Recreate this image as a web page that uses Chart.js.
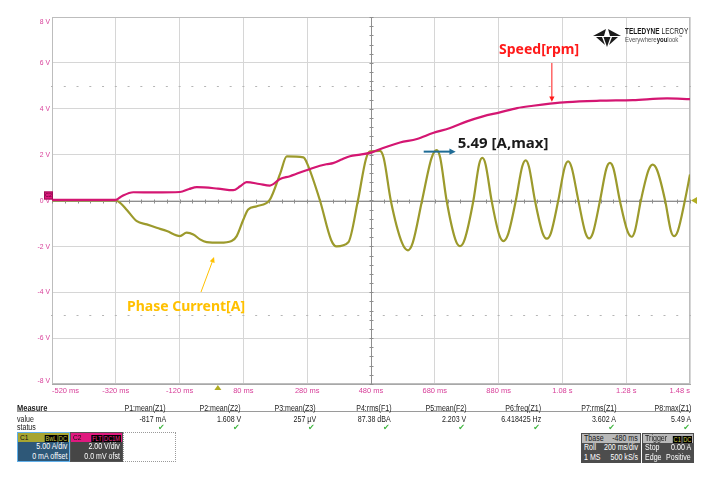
<!DOCTYPE html>
<html>
<head>
<meta charset="utf-8">
<title>Phase current and speed</title>
<script src="https://cdn.jsdelivr.net/npm/chart.js@4.4.1/dist/chart.umd.min.js"></script>
<style>
  html, body { margin: 0; padding: 0; background: #fff; }
  #wrap { position: relative; width: 711px; height: 477px; overflow: hidden;
          font-family: "Liberation Sans", Arial, sans-serif; }
  #scope { position: absolute; left: 0; top: 0; }
  .sq { display: inline-block; transform: scaleX(0.83); transform-origin: left center; }
  .sqr { display: inline-block; transform: scaleX(0.83); transform-origin: right center; }
  .t { position: absolute; font-size: 8.5px; line-height: 10px; white-space: nowrap; color: #222; }
  .r { text-align: right; width: 80px; }
  .ok { position: absolute; color: #3db53d; font-family: "DejaVu Sans", sans-serif; font-size: 8px; line-height: 9px; }
  .chan { position: absolute; width: 51px; height: 28px; border: 1px solid #888; overflow: hidden; }
  .chead { position: relative; height: 9px; font-size: 8px; line-height: 9px; }
  .cname { position: absolute; left: 2px; top: 0; color: #111; }
  .badges { position: absolute; right: 1px; top: 1px; white-space: nowrap;
            transform: scaleX(0.8); transform-origin: right center; }
  .badges b { display: inline-block; background: #000; margin-left: 1px; padding: 0 1px;
              font-weight: normal; font-size: 7px; line-height: 7px; }
  .cbody { height: 19px; text-align: right; color: #fff; font-size: 8.5px; line-height: 9.5px; padding-right: 2px; white-space: nowrap; }
  .row { position: relative; height: 9.3px; font-size: 8.5px; line-height: 9.3px; padding: 0 2px; white-space: nowrap; }
  .row > span.v { position: absolute; right: 2px; top: 0; }
</style>
</head>
<body>
<div id="wrap">
  <canvas id="scope" width="711" height="477"></canvas>

  <div class="t" style="left:17px;top:403px;font-weight:bold;font-size:9px"><span class="sq">Measure</span></div>
  <div style="position:absolute;left:17px;top:411px;width:674px;height:1px;background:#9a9a9a"></div>
  <div class="t" style="left:17px;top:413.5px"><span class="sq">value</span></div>
  <div class="t" style="left:17px;top:422px"><span class="sq">status</span></div>
  <div id="measure"></div>

  <div class="chan" style="left:17px;top:432px;border-color:#62b0ea">
    <div class="chead" style="background:#a7a531"><span class="cname"><span class="sq">C1</span></span>
      <span class="badges"><b style="color:#cfcc48">BwL</b><b style="color:#cfcc48">DC</b></span></div>
    <div class="cbody" style="background:#2e5878"><span class="sqr">5.00 A/div</span><br><span class="sqr">0 mA offset</span></div>
  </div>
  <div class="chan" style="left:70px;top:432px;border-color:#555">
    <div class="chead" style="background:#e0197f"><span class="cname"><span class="sq">C2</span></span>
      <span class="badges"><b style="color:#f0308f">FLT</b><b style="color:#f0308f">DC1M</b></span></div>
    <div class="cbody" style="background:#464646"><span class="sqr">2.00 V/div</span><br><span class="sqr">0.0 mV ofst</span></div>
  </div>
  <div style="position:absolute;left:123px;top:432px;width:51px;height:28px;border:1px dotted #9a9a9a"></div>

  <div class="chan" style="left:581px;top:433px;width:58px;border-color:#4d4d4d;background:#4d4d4d;color:#fff">
    <div class="row" style="background:#b9b9b9;color:#1a1a1a"><span class="sq">Tbase</span><span class="v"><span class="sqr">-480 ms</span></span></div>
    <div class="row"><span class="sq">Roll</span><span class="v"><span class="sqr">200 ms/div</span></span></div>
    <div class="row"><span class="sq">1 MS</span><span class="v"><span class="sqr">500 kS/s</span></span></div>
  </div>
  <div class="chan" style="left:642px;top:433px;width:50px;border-color:#4d4d4d;background:#4d4d4d;color:#fff">
    <div class="row" style="background:#b9b9b9;color:#1a1a1a"><span class="sq">Trigger</span><span class="badges"><b style="color:#cfcc48">C1</b><b style="color:#cfcc48">DC</b></span></div>
    <div class="row"><span class="sq">Stop</span><span class="v"><span class="sqr">0.00 A</span></span></div>
    <div class="row"><span class="sq">Edge</span><span class="v"><span class="sqr">Positive</span></span></div>
  </div>
</div>

<script>
// time axis (ms) and tick labels, 200 ms/div
const xTickLabels = ['-520 ms', '-320 ms', '-120 ms', '80 ms', '280 ms', '480 ms',
                     '680 ms', '880 ms', '1.08 s', '1.28 s', '1.48 s'];
const yTickValues = [8, 6, 4, 2, 0, -2, -4, -6, -8];
const yTickLabels = ['8 V', '6 V', '4 V', '2 V', '0 V', '-2 V', '-4 V', '-6 V', '-8 V'];

// C2: speed signal (V)
const speedTime = [-520, -320, -300, -265, -200, -119, -90, -66, 0, 48,
                   70, 90, 130, 163, 195, 226, 298, 340, 361, 390,
                   414, 446, 483, 518, 571, 624, 674, 728, 781, 831,
                   884, 938, 988, 1041, 1095, 1198, 1301, 1408, 1480];
const speedVolts = [0.03, 0.03, 0.2, 0.36, 0.35, 0.37, 0.5, 0.58, 0.52, 0.45,
                    0.62, 0.8, 0.72, 0.65, 0.94, 1.06, 1.42, 1.58, 1.63, 1.8,
                    1.93, 2.0, 2.1, 2.29, 2.53, 2.68, 2.94, 3.16, 3.45, 3.67,
                    3.84, 4.03, 4.13, 4.22, 4.29, 4.35, 4.38, 4.45, 4.42];

// C1: phase current (A), 5 A/div
const currentTime = [-520, -320, -305, -286, -254, -223, -192, -160, -119, -98,
                     -77, -56, -35, 7, 43, 59, 80, 95, 122, 163,
                     195, 216, 268, 279, 320, 355, 372, 409, 439, 464,
                     477, 508, 520, 542, 577, 596, 611, 640, 670, 686,
                     697, 717, 744, 759, 774, 801, 819, 829, 839, 858,
                     882, 895, 909, 934, 954, 965, 975, 994, 1018, 1031,
                     1044, 1067, 1087, 1098, 1109, 1130, 1152, 1164, 1176, 1198,
                     1218, 1229, 1240, 1260, 1284, 1297, 1307, 1326, 1350, 1363,
                     1377, 1402, 1420, 1430, 1442, 1464, 1480];
const currentAmps = [0, 0, -0.3, -1.0, -2.25, -2.6, -2.97, -3.33, -3.88, -3.51,
                     -3.7, -4.24, -4.53, -4.6, -4.42, -3.88, -2.07, -0.98, -0.62, 0.1,
                     2.9, 4.8, 4.7, 4.1, 0, -4.3, -5.0, -4.55, 0, 4.5,
                     5.35, 5.4, 4.6, 0, -4.6, -5.43, -4.6, 0, 4.65, 5.49,
                     4.65, 0, -4.2, -4.97, -4.2, 0, 3.95, 4.64, 3.95, 0,
                     -3.75, -4.42, -3.75, 0, 3.7, 4.38, 3.7, 0, -3.55, -4.16,
                     -3.55, 0, 3.6, 4.27, 3.6, 0, -3.5, -4.13, -3.5, 0,
                     3.5, 4.1, 3.5, 0, -3.35, -3.95, -3.35, 0, 3.3, 3.91,
                     3.3, 0, -3.3, -3.88, -3.3, 0, 2.83];

// measurement panel
const measureNames = ['P1:mean(Z1)', 'P2:mean(Z2)', 'P3:mean(Z3)', 'P4:rms(F1)',
                      'P5:mean(F2)', 'P6:freq(Z1)', 'P7:rms(Z1)', 'P8:max(Z1)'];
const measureValues = ['-817 mA', '1.608 V', '257 µV', '87.38 dBA',
                       '2.203 V', '6.418425 Hz', '3.602 A', '5.49 A'];

const FONT = '"Liberation Sans", Arial, sans-serif';
const PINK = '#d8409a';
const SPEED_COLOR = '#d41672';
const CURRENT_COLOR = '#9c9a2c';

// build measure table
const panel = document.getElementById('measure');
measureNames.forEach((name, i) => {
  const right = 166 + i * 75.04;
  panel.insertAdjacentHTML('beforeend',
    `<div class="t r" style="left:${right - 80}px;top:403px"><span class="sqr">${name}</span></div>` +
    `<div class="t r" style="left:${right - 80}px;top:413.5px"><span class="sqr">${measureValues[i]}</span></div>` +
    `<div class="ok" style="left:${right - 8}px;top:422.5px">✔</div>`);
});

function arrow(ctx, x1, y1, x2, y2, color, w, head) {
  const ang = Math.atan2(y2 - y1, x2 - x1);
  ctx.strokeStyle = color;
  ctx.fillStyle = color;
  ctx.lineWidth = w;
  ctx.beginPath();
  ctx.moveTo(x1, y1);
  ctx.lineTo(x2 - Math.cos(ang) * head * 0.7, y2 - Math.sin(ang) * head * 0.7);
  ctx.stroke();
  ctx.beginPath();
  ctx.moveTo(x2, y2);
  ctx.lineTo(x2 - head * Math.cos(ang - 0.45), y2 - head * Math.sin(ang - 0.45));
  ctx.lineTo(x2 - head * Math.cos(ang + 0.45), y2 - head * Math.sin(ang + 0.45));
  ctx.closePath();
  ctx.fill();
}

// condensed canvas text, like the scope's narrow font
function narrowText(ctx, text, x, y, sx) {
  ctx.save();
  ctx.translate(x, y);
  ctx.scale(sx, 1);
  ctx.fillText(text, 0, 0);
  const w = ctx.measureText(text).width * sx;
  ctx.restore();
  return w;
}

// scope graticule extras, markers and annotations
const scopeDecor = {
  id: 'scopeDecor',
  beforeDatasetsDraw(chart) {
    const { ctx, chartArea: a, scales: { x, y } } = chart;
    ctx.save();
    ctx.lineWidth = 1;
    ctx.strokeStyle = '#bdbdbd';
    ctx.strokeRect(a.left + 0.5, a.top + 0.5, a.width - 1, a.height - 1);

    // dotted rows at +/-5 div level
    ctx.fillStyle = '#b5b5b5';
    for (let t = -520; t <= 1480; t += 40) {
      const px = x.getPixelForValue(t);
      [5, -5].forEach(v => ctx.fillRect(px - 1, Math.round(y.getPixelForValue(v)), 2, 1));
    }

    // centre axes with minor ticks
    const y0 = Math.round(y.getPixelForValue(0)) + 0.5;
    const xc = Math.round(x.getPixelForValue(480)) + 0.5;
    ctx.strokeStyle = '#8e8e8e';
    ctx.beginPath();
    ctx.moveTo(a.left, y0); ctx.lineTo(a.right, y0);
    ctx.moveTo(xc, a.top); ctx.lineTo(xc, a.bottom);
    for (let t = -520; t <= 1480; t += 40) {
      const px = Math.round(x.getPixelForValue(t)) + 0.5;
      ctx.moveTo(px, y0 - 2); ctx.lineTo(px, y0 + 2);
    }
    for (let v = -8; v <= 8.01; v += 0.4) {
      const py = Math.round(y.getPixelForValue(v)) + 0.5;
      ctx.moveTo(xc - 2, py); ctx.lineTo(xc + 2, py);
    }
    ctx.stroke();
    ctx.restore();
  },
  afterDraw(chart) {
    const { ctx, chartArea: a, scales: { x, y, yA } } = chart;
    ctx.save();

    // y tick labels, kept inside the grid at the ends
    ctx.font = '8px ' + FONT;
    ctx.fillStyle = PINK;
    ctx.textAlign = 'right';
    ctx.textBaseline = 'middle';
    yTickValues.forEach((v, i) => {
      let py = y.getPixelForValue(v);
      py = Math.min(Math.max(py, a.top + 5), a.bottom - 3);
      narrowText(ctx, yTickLabels[i], a.left - 2, py, 0.85);
    });

    // C2 ground marker
    const y0 = y.getPixelForValue(0);
    ctx.fillStyle = '#e0197f';
    ctx.fillRect(44, y0 - 9, 9, 8);
    ctx.strokeStyle = '#9c0f55';
    ctx.strokeRect(44.5, y0 - 8.5, 8, 7);
    ctx.fillStyle = '#5a0030';
    ctx.font = '5px ' + FONT;
    ctx.textAlign = 'center';
    ctx.fillText('C2', 48.5, y0 - 5);

    // C1 level marker on the right, trigger marker at t = 0
    ctx.fillStyle = '#b0ac22';
    ctx.beginPath();
    ctx.moveTo(a.right + 1, y0);
    ctx.lineTo(a.right + 7, y0 - 3.5);
    ctx.lineTo(a.right + 7, y0 + 3.5);
    ctx.fill();
    const tx = x.getPixelForValue(0);
    ctx.beginPath();
    ctx.moveTo(tx, a.bottom + 1);
    ctx.lineTo(tx - 3.5, a.bottom + 6);
    ctx.lineTo(tx + 3.5, a.bottom + 6);
    ctx.fill();

    // annotations
    ctx.textAlign = 'left';
    ctx.textBaseline = 'middle';
    ctx.font = 'bold 14px "Noto Sans"';
    ctx.fillStyle = '#ff1a1a';
    ctx.fillText('Speed[rpm]', 499, 50);
    const sx = x.getPixelForValue(1047);
    arrow(ctx, sx, 63, sx, y.getPixelForValue(4.3), '#ff1a1a', 1, 6);

    const px = x.getPixelForValue(686);
    const py = yA.getPixelForValue(5.49);
    arrow(ctx, px - 13, py + 1.5, px + 19, py + 1.5, '#1f6c96', 2, 7);
    ctx.font = 'bold 15px "Noto Sans"';
    ctx.fillStyle = '#1a1a1a';
    ctx.fillText('5.49 [A,max]', px + 21, py - 6);

    ctx.font = 'bold 14px "Noto Sans"';
    ctx.fillStyle = '#ffc000';
    ctx.fillText('Phase Current[A]', 127, 307);
    arrow(ctx, 201, 292, x.getPixelForValue(-12), 257, '#ffc000', 1, 6);

    // logo
    ctx.fillStyle = '#1a1a1a';
    ctx.beginPath();
    ctx.moveTo(593, 36); ctx.lineTo(606, 29); ctx.lineTo(604, 36);
    ctx.closePath(); ctx.fill();
    ctx.beginPath();
    ctx.moveTo(621, 36); ctx.lineTo(608, 29); ctx.lineTo(610, 36);
    ctx.closePath(); ctx.fill();
    ctx.beginPath();
    ctx.moveTo(603.5, 37); ctx.lineTo(610.5, 37); ctx.lineTo(607, 47);
    ctx.closePath(); ctx.fill();
    ctx.beginPath();
    ctx.moveTo(596, 37); ctx.lineTo(602, 37); ctx.lineTo(605, 45);
    ctx.closePath(); ctx.fill();
    ctx.beginPath();
    ctx.moveTo(618, 37); ctx.lineTo(612, 37); ctx.lineTo(609, 45);
    ctx.closePath(); ctx.fill();
    ctx.textBaseline = 'alphabetic';
    ctx.font = 'bold 9px ' + FONT;
    let lx = 625 + narrowText(ctx, 'TELEDYNE', 625, 34, 0.72);
    ctx.font = '9px ' + FONT;
    narrowText(ctx, 'LECROY', lx + 2, 34, 0.72);
    ctx.fillStyle = '#555';
    ctx.font = '7.5px ' + FONT;
    let ex = 625 + narrowText(ctx, 'Everywhere', 625, 42, 0.8);
    ctx.font = 'bold 7.5px ' + FONT;
    ctx.fillStyle = '#1a1a1a';
    ex += narrowText(ctx, 'you', ex, 42, 0.8);
    ctx.font = '7.5px ' + FONT;
    ctx.fillStyle = '#555';
    ex += narrowText(ctx, 'look', ex, 42, 0.8);
    ctx.font = '4px ' + FONT;
    ctx.fillText('™', ex, 38);
    ctx.restore();
  }
};

const ctx = document.getElementById('scope').getContext('2d');
new Chart(ctx, {
  type: 'line',
  data: {
    datasets: [{
      label: 'Speed',
      data: speedTime.map((t, i) => ({ x: t, y: speedVolts[i] })),
      borderColor: SPEED_COLOR,
      borderWidth: 2.2,
      cubicInterpolationMode: 'monotone',
      yAxisID: 'y'
    }, {
      label: 'Phase Current',
      data: currentTime.map((t, i) => ({ x: t, y: currentAmps[i] })),
      borderColor: CURRENT_COLOR,
      borderWidth: 2.2,
      cubicInterpolationMode: 'monotone',
      yAxisID: 'yA'
    }]
  },
  options: {
    responsive: false,
    animation: false,
    layout: { padding: { top: 17, right: 21, bottom: 0, left: 0 } },
    elements: { point: { radius: 0 } },
    plugins: { legend: { display: false }, tooltip: { enabled: false } },
    scales: {
      x: {
        type: 'linear',
        min: -520,
        max: 1480,
        ticks: {
          stepSize: 200,
          align: 'inner',
          autoSkip: false,
          maxRotation: 0,
          padding: 2,
          color: PINK,
          font: { size: 7.5, family: FONT },
          callback: (v, i) => xTickLabels[i]
        },
        grid: { color: '#d6d6d6', drawTicks: false },
        border: { color: '#a8a8a8' },
        afterFit: s => { s.height = 93; }
      },
      y: {
        min: -8,
        max: 8,
        ticks: { stepSize: 2, display: false },
        grid: { color: '#d6d6d6', drawTicks: false },
        border: { color: '#a8a8a8' },
        afterFit: s => { s.width = 52; }
      },
      yA: { min: -20, max: 20, display: false }
    }
  },
  plugins: [scopeDecor]
});
</script>
</body>
</html>
